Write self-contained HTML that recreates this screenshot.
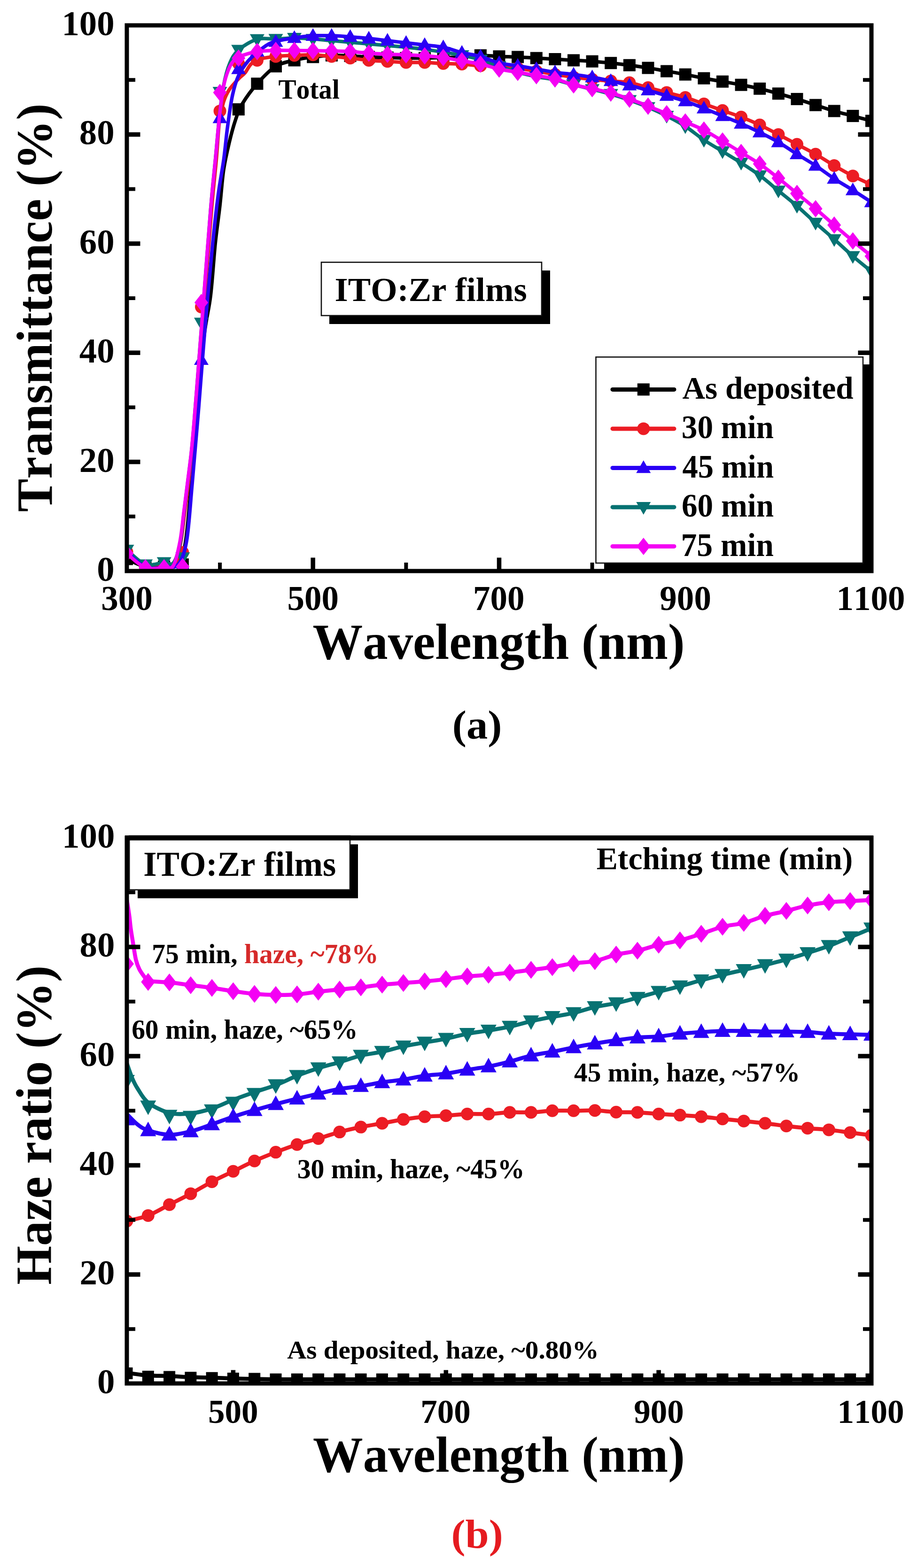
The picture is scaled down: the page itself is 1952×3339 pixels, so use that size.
<!DOCTYPE html>
<html><head><meta charset="utf-8"><title>ITO:Zr films transmittance and haze</title>
<style>html,body{margin:0;padding:0;background:#fff;}svg text{font-kerning:none;}</style>
</head><body>
<svg width="1952" height="3339" viewBox="0 0 1952 3339" style="display:block;font-kerning:none">
<rect width="1952" height="3339" fill="#fff"/>
<g font-family="'Liberation Serif','Times New Roman',serif" font-weight="bold">
<clipPath id="ca"><rect x="270" y="54" width="1585" height="1162"/></clipPath>
<g clip-path="url(#ca)">
<path d="M270.0,1190.4 C276.6,1193.1 296.4,1204.0 309.6,1206.7 C322.8,1209.4 337.7,1207.5 349.2,1206.7 C360.8,1205.9 371.4,1210.8 379.0,1202.1 C386.6,1193.3 390.2,1182.1 394.8,1154.4 C399.4,1126.7 402.4,1082.8 406.7,1035.9 C411.0,989.0 416.0,926.5 420.6,873.2 C425.2,820.0 429.8,757.0 434.4,716.3 C439.1,675.7 444.4,662.1 448.3,629.2 C452.3,596.3 454.9,550.8 458.2,518.8 C461.5,486.8 465.2,463.6 468.1,437.5 C471.1,411.3 472.7,384.2 476.0,361.9 C479.4,339.7 483.6,321.8 487.9,303.8 C492.2,285.8 497.2,267.6 501.8,253.9 C506.4,240.1 508.1,233.9 515.7,221.3 C523.3,208.7 535.5,191.7 547.4,178.3 C559.3,165.0 573.8,149.5 587.0,141.2 C600.2,132.8 613.4,131.7 626.6,128.4 C639.8,125.1 653.0,123.1 666.2,121.4 C679.5,119.7 692.7,118.3 705.9,117.9 C719.1,117.5 732.3,118.5 745.5,119.1 C758.7,119.7 771.9,120.8 785.1,121.4 C798.3,122.0 811.5,122.2 824.8,122.6 C838.0,122.9 851.2,123.5 864.4,123.7 C877.6,123.9 890.8,123.9 904.0,123.7 C917.2,123.5 930.4,122.9 943.6,122.6 C956.8,122.2 970.0,122.2 983.2,121.4 C996.5,120.6 1009.7,118.1 1022.9,117.9 C1036.1,117.7 1049.3,119.7 1062.5,120.2 C1075.7,120.8 1088.9,120.8 1102.1,121.4 C1115.3,122.0 1128.5,122.9 1141.8,123.7 C1155.0,124.5 1168.2,125.3 1181.4,126.0 C1194.6,126.8 1207.8,127.6 1221.0,128.4 C1234.2,129.1 1247.4,129.7 1260.6,130.7 C1273.8,131.7 1287.0,132.8 1300.2,134.2 C1313.5,135.5 1326.7,137.1 1339.9,138.8 C1353.1,140.6 1366.3,142.5 1379.5,144.6 C1392.7,146.8 1405.9,149.3 1419.1,151.6 C1432.3,153.9 1445.5,156.1 1458.8,158.6 C1472.0,161.1 1485.2,164.2 1498.4,166.7 C1511.6,169.2 1524.8,171.4 1538.0,173.7 C1551.2,176.0 1564.4,178.1 1577.6,180.7 C1590.8,183.2 1604.0,185.7 1617.2,188.8 C1630.5,191.9 1643.7,195.6 1656.9,199.3 C1670.1,202.9 1683.3,206.8 1696.5,210.9 C1709.7,214.9 1722.9,219.4 1736.1,223.7 C1749.3,227.9 1762.5,232.6 1775.8,236.4 C1789.0,240.3 1802.2,243.4 1815.4,246.9 C1828.6,250.4 1848.4,255.6 1855.0,257.4" fill="none" stroke="#000000" stroke-width="7.5" stroke-linejoin="round"/>
<rect x="257.0" y="1177.4" width="26" height="26" fill="#000000"/>
<rect x="296.6" y="1193.7" width="26" height="26" fill="#000000"/>
<rect x="336.2" y="1193.7" width="26" height="26" fill="#000000"/>
<rect x="375.9" y="1189.1" width="26" height="26" fill="#000000"/>
<rect x="494.8" y="219.9" width="26" height="26" fill="#000000"/>
<rect x="534.4" y="165.3" width="26" height="26" fill="#000000"/>
<rect x="574.0" y="128.2" width="26" height="26" fill="#000000"/>
<rect x="613.6" y="115.4" width="26" height="26" fill="#000000"/>
<rect x="653.2" y="108.4" width="26" height="26" fill="#000000"/>
<rect x="692.9" y="104.9" width="26" height="26" fill="#000000"/>
<rect x="732.5" y="106.1" width="26" height="26" fill="#000000"/>
<rect x="772.1" y="108.4" width="26" height="26" fill="#000000"/>
<rect x="811.8" y="109.6" width="26" height="26" fill="#000000"/>
<rect x="851.4" y="110.7" width="26" height="26" fill="#000000"/>
<rect x="891.0" y="110.7" width="26" height="26" fill="#000000"/>
<rect x="930.6" y="109.6" width="26" height="26" fill="#000000"/>
<rect x="970.2" y="108.4" width="26" height="26" fill="#000000"/>
<rect x="1009.9" y="104.9" width="26" height="26" fill="#000000"/>
<rect x="1049.5" y="107.2" width="26" height="26" fill="#000000"/>
<rect x="1089.1" y="108.4" width="26" height="26" fill="#000000"/>
<rect x="1128.8" y="110.7" width="26" height="26" fill="#000000"/>
<rect x="1168.4" y="113.0" width="26" height="26" fill="#000000"/>
<rect x="1208.0" y="115.4" width="26" height="26" fill="#000000"/>
<rect x="1247.6" y="117.7" width="26" height="26" fill="#000000"/>
<rect x="1287.2" y="121.2" width="26" height="26" fill="#000000"/>
<rect x="1326.9" y="125.8" width="26" height="26" fill="#000000"/>
<rect x="1366.5" y="131.6" width="26" height="26" fill="#000000"/>
<rect x="1406.1" y="138.6" width="26" height="26" fill="#000000"/>
<rect x="1445.8" y="145.6" width="26" height="26" fill="#000000"/>
<rect x="1485.4" y="153.7" width="26" height="26" fill="#000000"/>
<rect x="1525.0" y="160.7" width="26" height="26" fill="#000000"/>
<rect x="1564.6" y="167.7" width="26" height="26" fill="#000000"/>
<rect x="1604.2" y="175.8" width="26" height="26" fill="#000000"/>
<rect x="1643.9" y="186.3" width="26" height="26" fill="#000000"/>
<rect x="1683.5" y="197.9" width="26" height="26" fill="#000000"/>
<rect x="1723.1" y="210.7" width="26" height="26" fill="#000000"/>
<rect x="1762.8" y="223.4" width="26" height="26" fill="#000000"/>
<rect x="1802.4" y="233.9" width="26" height="26" fill="#000000"/>
<rect x="1842.0" y="244.4" width="26" height="26" fill="#000000"/>
<path d="M270.0,1175.3 C276.6,1180.6 296.4,1201.9 309.6,1206.7 C322.8,1211.5 338.7,1205.2 349.2,1204.4 C359.8,1203.6 367.0,1210.8 373.0,1202.1 C379.0,1193.3 381.9,1170.7 385.3,1152.1 C388.7,1133.5 390.6,1111.2 393.2,1090.5 C395.9,1069.8 398.5,1048.9 401.2,1027.8 C403.8,1006.6 406.8,985.1 409.1,963.8 C411.4,942.5 412.4,931.5 415.0,899.9 C417.7,868.4 421.6,817.0 424.9,774.4 C428.2,731.8 430.5,699.7 434.8,644.3 C439.1,588.9 446.4,493.0 450.7,442.1 C455.0,391.2 457.9,369.5 460.6,338.7 C463.3,307.9 464.6,277.7 467.1,257.4 C469.7,237.0 472.6,227.7 476.0,216.7 C479.5,205.6 482.7,199.2 487.9,191.1 C493.2,183.0 502.1,173.9 507.8,167.9 C513.4,161.9 517.0,160.5 521.6,155.1 C526.2,149.7 529.5,140.4 535.5,135.3 C541.4,130.3 548.7,127.4 557.3,124.9 C565.9,122.4 575.4,121.4 587.0,120.2 C598.6,119.1 613.4,118.5 626.6,117.9 C639.8,117.3 653.0,116.4 666.2,116.7 C679.5,117.1 692.7,119.1 705.9,120.2 C719.1,121.4 732.3,122.4 745.5,123.7 C758.7,125.1 771.9,127.2 785.1,128.4 C798.3,129.5 811.5,129.9 824.8,130.7 C838.0,131.5 851.2,132.6 864.4,133.0 C877.6,133.4 890.8,132.6 904.0,133.0 C917.2,133.4 930.4,134.8 943.6,135.3 C956.8,135.9 970.0,135.7 983.2,136.5 C996.5,137.3 1009.7,139.4 1022.9,140.0 C1036.1,140.6 1049.3,139.1 1062.5,140.0 C1075.7,140.9 1088.9,143.3 1102.1,145.2 C1115.3,147.2 1128.5,149.4 1141.8,151.6 C1155.0,153.8 1168.2,156.4 1181.4,158.6 C1194.6,160.7 1207.8,162.6 1221.0,164.4 C1234.2,166.1 1247.4,167.7 1260.6,169.0 C1273.8,170.4 1287.0,171.4 1300.2,172.5 C1313.5,173.7 1326.7,173.7 1339.9,176.0 C1353.1,178.3 1366.3,183.0 1379.5,186.5 C1392.7,190.0 1405.9,193.4 1419.1,196.9 C1432.3,200.4 1445.5,203.3 1458.8,207.4 C1472.0,211.5 1485.2,216.7 1498.4,221.3 C1511.6,226.0 1524.8,230.6 1538.0,235.3 C1551.2,239.9 1564.4,244.1 1577.6,249.2 C1590.8,254.3 1604.0,259.9 1617.2,266.1 C1630.5,272.3 1643.7,279.5 1656.9,286.4 C1670.1,293.3 1683.3,300.3 1696.5,307.3 C1709.7,314.3 1722.9,320.7 1736.1,328.2 C1749.3,335.8 1762.5,344.9 1775.8,352.6 C1789.0,360.4 1802.2,367.9 1815.4,374.7 C1828.6,381.5 1848.4,390.2 1855.0,393.3" fill="none" stroke="#ec1c24" stroke-width="7.5" stroke-linejoin="round"/>
<circle cx="270.0" cy="1175.3" r="13.5" fill="#ec1c24"/>
<circle cx="309.6" cy="1206.7" r="13.5" fill="#ec1c24"/>
<circle cx="349.2" cy="1204.4" r="13.5" fill="#ec1c24"/>
<circle cx="388.9" cy="1176.5" r="13.5" fill="#ec1c24"/>
<circle cx="428.5" cy="653.6" r="13.5" fill="#ec1c24"/>
<circle cx="468.1" cy="236.4" r="13.5" fill="#ec1c24"/>
<circle cx="507.8" cy="135.3" r="13.5" fill="#ec1c24"/>
<circle cx="547.4" cy="128.4" r="13.5" fill="#ec1c24"/>
<circle cx="587.0" cy="120.2" r="13.5" fill="#ec1c24"/>
<circle cx="626.6" cy="117.9" r="13.5" fill="#ec1c24"/>
<circle cx="666.2" cy="116.7" r="13.5" fill="#ec1c24"/>
<circle cx="705.9" cy="120.2" r="13.5" fill="#ec1c24"/>
<circle cx="745.5" cy="123.7" r="13.5" fill="#ec1c24"/>
<circle cx="785.1" cy="128.4" r="13.5" fill="#ec1c24"/>
<circle cx="824.8" cy="130.7" r="13.5" fill="#ec1c24"/>
<circle cx="864.4" cy="133.0" r="13.5" fill="#ec1c24"/>
<circle cx="904.0" cy="133.0" r="13.5" fill="#ec1c24"/>
<circle cx="943.6" cy="135.3" r="13.5" fill="#ec1c24"/>
<circle cx="983.2" cy="136.5" r="13.5" fill="#ec1c24"/>
<circle cx="1022.9" cy="140.0" r="13.5" fill="#ec1c24"/>
<circle cx="1062.5" cy="140.0" r="13.5" fill="#ec1c24"/>
<circle cx="1102.1" cy="145.2" r="13.5" fill="#ec1c24"/>
<circle cx="1141.8" cy="151.6" r="13.5" fill="#ec1c24"/>
<circle cx="1181.4" cy="158.6" r="13.5" fill="#ec1c24"/>
<circle cx="1221.0" cy="164.4" r="13.5" fill="#ec1c24"/>
<circle cx="1260.6" cy="169.0" r="13.5" fill="#ec1c24"/>
<circle cx="1300.2" cy="172.5" r="13.5" fill="#ec1c24"/>
<circle cx="1339.9" cy="176.0" r="13.5" fill="#ec1c24"/>
<circle cx="1379.5" cy="186.5" r="13.5" fill="#ec1c24"/>
<circle cx="1419.1" cy="196.9" r="13.5" fill="#ec1c24"/>
<circle cx="1458.8" cy="207.4" r="13.5" fill="#ec1c24"/>
<circle cx="1498.4" cy="221.3" r="13.5" fill="#ec1c24"/>
<circle cx="1538.0" cy="235.3" r="13.5" fill="#ec1c24"/>
<circle cx="1577.6" cy="249.2" r="13.5" fill="#ec1c24"/>
<circle cx="1617.2" cy="266.1" r="13.5" fill="#ec1c24"/>
<circle cx="1656.9" cy="286.4" r="13.5" fill="#ec1c24"/>
<circle cx="1696.5" cy="307.3" r="13.5" fill="#ec1c24"/>
<circle cx="1736.1" cy="328.2" r="13.5" fill="#ec1c24"/>
<circle cx="1775.8" cy="352.6" r="13.5" fill="#ec1c24"/>
<circle cx="1815.4" cy="374.7" r="13.5" fill="#ec1c24"/>
<circle cx="1855.0" cy="393.3" r="13.5" fill="#ec1c24"/>
<path d="M270.0,1170.7 C276.6,1175.9 296.4,1197.6 309.6,1202.1 C322.8,1206.5 339.3,1198.0 349.2,1197.4 C359.2,1196.8 363.4,1205.2 369.1,1198.6 C374.7,1192.0 379.6,1175.3 383.3,1157.9 C387.0,1140.5 388.6,1115.3 391.3,1094.0 C393.9,1072.7 396.5,1051.4 399.2,1030.1 C401.8,1008.8 404.8,987.5 407.1,966.2 C409.4,944.9 410.4,934.2 413.0,902.3 C415.7,870.3 419.7,817.0 423.0,774.4 C426.3,731.8 428.6,702.0 432.9,646.6 C437.2,591.2 444.4,493.4 448.7,442.1 C453.0,390.8 455.5,371.0 458.6,338.7 C461.7,306.3 464.2,274.2 467.1,248.1 C470.0,221.9 472.4,200.6 476.0,181.8 C479.7,163.0 483.6,147.9 488.9,135.3 C494.2,122.8 498.0,114.9 507.8,106.3 C517.5,97.7 534.2,87.5 547.4,83.6 C560.6,79.8 573.8,83.5 587.0,83.1 C600.2,82.6 613.4,80.7 626.6,80.7 C639.8,80.7 653.0,82.1 666.2,83.1 C679.5,84.0 692.7,85.4 705.9,86.5 C719.1,87.7 732.3,88.9 745.5,90.0 C758.7,91.2 771.9,92.3 785.1,93.5 C798.3,94.7 811.5,95.8 824.8,97.0 C838.0,98.2 851.2,99.1 864.4,100.5 C877.6,101.8 890.8,103.4 904.0,105.1 C917.2,106.9 930.4,108.8 943.6,110.9 C956.8,113.1 970.0,115.2 983.2,117.9 C996.5,120.6 1009.7,123.3 1022.9,127.2 C1036.1,131.1 1049.3,136.7 1062.5,141.2 C1075.7,145.6 1088.9,150.3 1102.1,153.9 C1115.3,157.6 1128.5,160.5 1141.8,163.2 C1155.0,165.9 1168.2,167.3 1181.4,170.2 C1194.6,173.1 1207.8,177.4 1221.0,180.7 C1234.2,184.0 1247.4,186.7 1260.6,190.0 C1273.8,193.2 1287.0,196.5 1300.2,200.4 C1313.5,204.3 1326.7,208.5 1339.9,213.2 C1353.1,217.8 1366.3,222.7 1379.5,228.3 C1392.7,233.9 1405.9,240.1 1419.1,246.9 C1432.3,253.7 1445.5,260.4 1458.8,269.0 C1472.0,277.5 1485.2,289.1 1498.4,298.0 C1511.6,306.9 1524.8,314.3 1538.0,322.4 C1551.2,330.6 1564.4,338.3 1577.6,346.8 C1590.8,355.3 1604.0,363.7 1617.2,373.6 C1630.5,383.4 1643.7,395.2 1656.9,406.1 C1670.1,416.9 1683.3,427.2 1696.5,438.6 C1709.7,450.0 1722.9,462.8 1736.1,474.6 C1749.3,486.5 1762.5,497.7 1775.8,509.5 C1789.0,521.3 1802.2,534.1 1815.4,545.5 C1828.6,557.0 1848.4,572.6 1855.0,578.1" fill="none" stroke="#077272" stroke-width="7.5" stroke-linejoin="round"/>
<path d="M254.5,1159.9 L285.5,1159.9 L270.0,1186.9Z" fill="#077272"/>
<path d="M294.1,1191.3 L325.1,1191.3 L309.6,1218.3Z" fill="#077272"/>
<path d="M333.8,1186.6 L364.8,1186.6 L349.2,1213.6Z" fill="#077272"/>
<path d="M373.4,1176.2 L404.4,1176.2 L388.9,1203.2Z" fill="#077272"/>
<path d="M413.0,676.5 L444.0,676.5 L428.5,703.5Z" fill="#077272"/>
<path d="M452.6,185.0 L483.6,185.0 L468.1,212.0Z" fill="#077272"/>
<path d="M492.2,95.5 L523.2,95.5 L507.8,122.5Z" fill="#077272"/>
<path d="M531.9,72.8 L562.9,72.8 L547.4,99.8Z" fill="#077272"/>
<path d="M571.5,72.3 L602.5,72.3 L587.0,99.3Z" fill="#077272"/>
<path d="M611.1,69.9 L642.1,69.9 L626.6,96.9Z" fill="#077272"/>
<path d="M650.8,72.3 L681.8,72.3 L666.2,99.3Z" fill="#077272"/>
<path d="M690.4,75.7 L721.4,75.7 L705.9,102.7Z" fill="#077272"/>
<path d="M730.0,79.2 L761.0,79.2 L745.5,106.2Z" fill="#077272"/>
<path d="M769.6,82.7 L800.6,82.7 L785.1,109.7Z" fill="#077272"/>
<path d="M809.2,86.2 L840.2,86.2 L824.8,113.2Z" fill="#077272"/>
<path d="M848.9,89.7 L879.9,89.7 L864.4,116.7Z" fill="#077272"/>
<path d="M888.5,94.3 L919.5,94.3 L904.0,121.3Z" fill="#077272"/>
<path d="M928.1,100.1 L959.1,100.1 L943.6,127.1Z" fill="#077272"/>
<path d="M967.8,107.1 L998.8,107.1 L983.2,134.1Z" fill="#077272"/>
<path d="M1007.4,116.4 L1038.4,116.4 L1022.9,143.4Z" fill="#077272"/>
<path d="M1047.0,130.4 L1078.0,130.4 L1062.5,157.4Z" fill="#077272"/>
<path d="M1086.6,143.1 L1117.6,143.1 L1102.1,170.1Z" fill="#077272"/>
<path d="M1126.2,152.4 L1157.2,152.4 L1141.8,179.4Z" fill="#077272"/>
<path d="M1165.9,159.4 L1196.9,159.4 L1181.4,186.4Z" fill="#077272"/>
<path d="M1205.5,169.9 L1236.5,169.9 L1221.0,196.9Z" fill="#077272"/>
<path d="M1245.1,179.2 L1276.1,179.2 L1260.6,206.2Z" fill="#077272"/>
<path d="M1284.8,189.6 L1315.8,189.6 L1300.2,216.6Z" fill="#077272"/>
<path d="M1324.4,202.4 L1355.4,202.4 L1339.9,229.4Z" fill="#077272"/>
<path d="M1364.0,217.5 L1395.0,217.5 L1379.5,244.5Z" fill="#077272"/>
<path d="M1403.6,236.1 L1434.6,236.1 L1419.1,263.1Z" fill="#077272"/>
<path d="M1443.2,258.2 L1474.2,258.2 L1458.8,285.2Z" fill="#077272"/>
<path d="M1482.9,287.2 L1513.9,287.2 L1498.4,314.2Z" fill="#077272"/>
<path d="M1522.5,311.6 L1553.5,311.6 L1538.0,338.6Z" fill="#077272"/>
<path d="M1562.1,336.0 L1593.1,336.0 L1577.6,363.0Z" fill="#077272"/>
<path d="M1601.8,362.8 L1632.8,362.8 L1617.2,389.8Z" fill="#077272"/>
<path d="M1641.4,395.3 L1672.4,395.3 L1656.9,422.3Z" fill="#077272"/>
<path d="M1681.0,427.8 L1712.0,427.8 L1696.5,454.8Z" fill="#077272"/>
<path d="M1720.6,463.8 L1751.6,463.8 L1736.1,490.8Z" fill="#077272"/>
<path d="M1760.2,498.7 L1791.2,498.7 L1775.8,525.7Z" fill="#077272"/>
<path d="M1799.9,534.7 L1830.9,534.7 L1815.4,561.7Z" fill="#077272"/>
<path d="M1839.5,567.3 L1870.5,567.3 L1855.0,594.3Z" fill="#077272"/>
<path d="M270.0,1175.3 C276.6,1180.8 296.4,1202.4 309.6,1207.9 C322.8,1213.3 337.7,1208.8 349.2,1207.9 C360.8,1206.9 371.0,1211.4 379.0,1202.1 C387.0,1192.8 392.2,1180.8 397.2,1152.1 C402.2,1123.4 404.8,1077.5 409.1,1030.1 C413.4,982.6 418.3,923.6 423.0,867.4 C427.6,811.2 431.9,751.2 436.8,693.1 C441.8,635.0 448.0,565.3 452.7,518.8 C457.3,472.3 460.6,444.2 464.6,414.2 C468.5,384.2 473.1,362.7 476.4,338.7 C479.7,314.7 481.3,292.8 484.4,270.1 C487.4,247.5 491.0,220.9 494.9,202.7 C498.8,184.5 502.3,172.9 507.8,160.9 C513.2,148.9 521.0,138.8 527.6,130.7 C534.2,122.6 539.1,118.7 547.4,112.1 C555.6,105.5 563.9,96.4 577.1,91.2 C590.3,86.0 611.8,83.2 626.6,80.7 C641.5,78.2 653.0,76.9 666.2,76.1 C679.5,75.3 692.7,75.7 705.9,76.1 C719.1,76.5 732.3,77.4 745.5,78.4 C758.7,79.4 771.9,80.5 785.1,81.9 C798.3,83.2 811.5,85.0 824.8,86.5 C838.0,88.1 851.2,89.6 864.4,91.2 C877.6,92.7 890.8,94.3 904.0,95.8 C917.2,97.4 930.4,97.8 943.6,100.5 C956.8,103.2 970.0,108.8 983.2,112.1 C996.5,115.4 1009.7,116.6 1022.9,120.2 C1036.1,123.9 1049.3,130.9 1062.5,134.2 C1075.7,137.5 1088.9,137.9 1102.1,140.0 C1115.3,142.1 1128.5,144.6 1141.8,147.0 C1155.0,149.3 1168.2,152.0 1181.4,153.9 C1194.6,155.9 1207.8,156.8 1221.0,158.6 C1234.2,160.3 1247.4,162.1 1260.6,164.4 C1273.8,166.7 1287.0,169.6 1300.2,172.5 C1313.5,175.4 1326.7,178.5 1339.9,181.8 C1353.1,185.1 1366.3,188.6 1379.5,192.3 C1392.7,196.0 1405.9,200.0 1419.1,203.9 C1432.3,207.8 1445.5,211.1 1458.8,215.5 C1472.0,220.0 1485.2,225.4 1498.4,230.6 C1511.6,235.9 1524.8,241.5 1538.0,246.9 C1551.2,252.3 1564.4,257.4 1577.6,263.2 C1590.8,269.0 1604.0,275.2 1617.2,281.8 C1630.5,288.3 1643.7,294.9 1656.9,302.7 C1670.1,310.4 1683.3,319.9 1696.5,328.2 C1709.7,336.6 1722.9,343.9 1736.1,352.6 C1749.3,361.3 1762.5,371.8 1775.8,380.5 C1789.0,389.2 1802.2,396.6 1815.4,404.9 C1828.6,413.3 1848.4,426.2 1855.0,430.5" fill="none" stroke="#2a00f5" stroke-width="7.5" stroke-linejoin="round"/>
<path d="M270.0,1159.1 L285.5,1186.1 L254.5,1186.1Z" fill="#2a00f5"/>
<path d="M309.6,1191.7 L325.1,1218.7 L294.1,1218.7Z" fill="#2a00f5"/>
<path d="M349.2,1191.7 L364.8,1218.7 L333.8,1218.7Z" fill="#2a00f5"/>
<path d="M388.9,1188.2 L404.4,1215.2 L373.4,1215.2Z" fill="#2a00f5"/>
<path d="M428.5,750.1 L444.0,777.1 L413.0,777.1Z" fill="#2a00f5"/>
<path d="M468.1,235.3 L483.6,262.3 L452.6,262.3Z" fill="#2a00f5"/>
<path d="M507.8,130.8 L523.2,157.8 L492.2,157.8Z" fill="#2a00f5"/>
<path d="M547.4,93.6 L562.9,120.6 L531.9,120.6Z" fill="#2a00f5"/>
<path d="M587.0,72.7 L602.5,99.7 L571.5,99.7Z" fill="#2a00f5"/>
<path d="M626.6,64.5 L642.1,91.5 L611.1,91.5Z" fill="#2a00f5"/>
<path d="M666.2,59.9 L681.8,86.9 L650.8,86.9Z" fill="#2a00f5"/>
<path d="M705.9,59.9 L721.4,86.9 L690.4,86.9Z" fill="#2a00f5"/>
<path d="M745.5,62.2 L761.0,89.2 L730.0,89.2Z" fill="#2a00f5"/>
<path d="M785.1,65.7 L800.6,92.7 L769.6,92.7Z" fill="#2a00f5"/>
<path d="M824.8,70.3 L840.2,97.3 L809.2,97.3Z" fill="#2a00f5"/>
<path d="M864.4,75.0 L879.9,102.0 L848.9,102.0Z" fill="#2a00f5"/>
<path d="M904.0,79.6 L919.5,106.6 L888.5,106.6Z" fill="#2a00f5"/>
<path d="M943.6,84.3 L959.1,111.3 L928.1,111.3Z" fill="#2a00f5"/>
<path d="M983.2,95.9 L998.8,122.9 L967.8,122.9Z" fill="#2a00f5"/>
<path d="M1022.9,104.0 L1038.4,131.0 L1007.4,131.0Z" fill="#2a00f5"/>
<path d="M1062.5,118.0 L1078.0,145.0 L1047.0,145.0Z" fill="#2a00f5"/>
<path d="M1102.1,123.8 L1117.6,150.8 L1086.6,150.8Z" fill="#2a00f5"/>
<path d="M1141.8,130.8 L1157.2,157.8 L1126.2,157.8Z" fill="#2a00f5"/>
<path d="M1181.4,137.7 L1196.9,164.7 L1165.9,164.7Z" fill="#2a00f5"/>
<path d="M1221.0,142.4 L1236.5,169.4 L1205.5,169.4Z" fill="#2a00f5"/>
<path d="M1260.6,148.2 L1276.1,175.2 L1245.1,175.2Z" fill="#2a00f5"/>
<path d="M1300.2,156.3 L1315.8,183.3 L1284.8,183.3Z" fill="#2a00f5"/>
<path d="M1339.9,165.6 L1355.4,192.6 L1324.4,192.6Z" fill="#2a00f5"/>
<path d="M1379.5,176.1 L1395.0,203.1 L1364.0,203.1Z" fill="#2a00f5"/>
<path d="M1419.1,187.7 L1434.6,214.7 L1403.6,214.7Z" fill="#2a00f5"/>
<path d="M1458.8,199.3 L1474.2,226.3 L1443.2,226.3Z" fill="#2a00f5"/>
<path d="M1498.4,214.4 L1513.9,241.4 L1482.9,241.4Z" fill="#2a00f5"/>
<path d="M1538.0,230.7 L1553.5,257.7 L1522.5,257.7Z" fill="#2a00f5"/>
<path d="M1577.6,247.0 L1593.1,274.0 L1562.1,274.0Z" fill="#2a00f5"/>
<path d="M1617.2,265.6 L1632.8,292.6 L1601.8,292.6Z" fill="#2a00f5"/>
<path d="M1656.9,286.5 L1672.4,313.5 L1641.4,313.5Z" fill="#2a00f5"/>
<path d="M1696.5,312.0 L1712.0,339.0 L1681.0,339.0Z" fill="#2a00f5"/>
<path d="M1736.1,336.4 L1751.6,363.4 L1720.6,363.4Z" fill="#2a00f5"/>
<path d="M1775.8,364.3 L1791.2,391.3 L1760.2,391.3Z" fill="#2a00f5"/>
<path d="M1815.4,388.7 L1830.9,415.7 L1799.9,415.7Z" fill="#2a00f5"/>
<path d="M1855.0,414.3 L1870.5,441.3 L1839.5,441.3Z" fill="#2a00f5"/>
<path d="M270.0,1178.8 C276.6,1183.9 296.4,1204.0 309.6,1209.0 C322.8,1214.1 339.3,1209.8 349.2,1209.0 C359.2,1208.3 363.4,1213.9 369.1,1204.4 C374.7,1194.9 379.6,1171.1 383.3,1152.1 C387.0,1133.1 388.6,1111.2 391.3,1090.5 C393.9,1069.8 396.5,1048.9 399.2,1027.8 C401.8,1006.6 404.8,985.1 407.1,963.8 C409.4,942.5 410.4,931.5 413.0,899.9 C415.7,868.4 419.7,817.0 423.0,774.4 C426.3,731.8 428.6,699.7 432.9,644.3 C437.2,588.9 444.4,493.0 448.7,442.1 C453.0,391.2 455.5,371.0 458.6,338.7 C461.7,306.3 464.2,274.2 467.1,248.1 C470.1,221.9 473.2,198.5 476.4,181.8 C479.6,165.2 483.1,156.6 486.4,148.1 C489.7,139.6 492.7,135.1 496.3,130.7 C499.8,126.2 499.2,124.9 507.8,121.4 C516.3,117.9 534.2,112.1 547.4,109.8 C560.6,107.5 573.8,107.8 587.0,107.5 C600.2,107.1 613.4,107.4 626.6,107.5 C639.8,107.5 653.0,107.8 666.2,108.0 C679.5,108.2 692.7,108.3 705.9,108.6 C719.1,108.9 732.3,109.0 745.5,109.8 C758.7,110.6 771.9,112.3 785.1,113.3 C798.3,114.2 811.5,115.0 824.8,115.6 C838.0,116.2 851.2,116.2 864.4,116.7 C877.6,117.3 890.8,118.1 904.0,119.1 C917.2,120.0 930.4,120.8 943.6,122.6 C956.8,124.3 970.0,127.2 983.2,129.5 C996.5,131.9 1009.7,133.6 1022.9,136.5 C1036.1,139.4 1049.3,144.1 1062.5,147.0 C1075.7,149.9 1088.9,151.6 1102.1,153.9 C1115.3,156.3 1128.5,158.6 1141.8,160.9 C1155.0,163.2 1168.2,164.6 1181.4,167.9 C1194.6,171.2 1207.8,177.2 1221.0,180.7 C1234.2,184.1 1247.4,185.9 1260.6,188.8 C1273.8,191.7 1287.0,194.4 1300.2,198.1 C1313.5,201.8 1326.7,206.2 1339.9,210.9 C1353.1,215.5 1366.3,220.7 1379.5,226.0 C1392.7,231.2 1405.9,236.6 1419.1,242.2 C1432.3,247.9 1445.5,253.9 1458.8,259.7 C1472.0,265.5 1485.2,270.3 1498.4,277.1 C1511.6,283.9 1524.8,292.4 1538.0,300.3 C1551.2,308.3 1564.4,316.6 1577.6,324.7 C1590.8,332.9 1604.0,340.0 1617.2,349.1 C1630.5,358.3 1643.7,368.9 1656.9,379.4 C1670.1,389.8 1683.3,401.1 1696.5,411.9 C1709.7,422.7 1722.9,433.2 1736.1,444.4 C1749.3,455.7 1762.5,467.9 1775.8,479.3 C1789.0,490.7 1802.2,502.0 1815.4,513.0 C1828.6,524.0 1848.4,540.1 1855.0,545.5" fill="none" stroke="#f400f4" stroke-width="7.5" stroke-linejoin="round"/>
<path d="M270.0,1160.3 L284.5,1178.8 L270.0,1197.3 L255.5,1178.8Z" fill="#f400f4"/>
<path d="M309.6,1190.5 L324.1,1209.0 L309.6,1227.5 L295.1,1209.0Z" fill="#f400f4"/>
<path d="M349.2,1190.5 L363.8,1209.0 L349.2,1227.5 L334.8,1209.0Z" fill="#f400f4"/>
<path d="M388.9,1188.2 L403.4,1206.7 L388.9,1225.2 L374.4,1206.7Z" fill="#f400f4"/>
<path d="M428.5,625.8 L443.0,644.3 L428.5,662.8 L414.0,644.3Z" fill="#f400f4"/>
<path d="M468.1,178.4 L482.6,196.9 L468.1,215.4 L453.6,196.9Z" fill="#f400f4"/>
<path d="M507.8,105.2 L522.2,123.7 L507.8,142.2 L493.2,123.7Z" fill="#f400f4"/>
<path d="M547.4,91.3 L561.9,109.8 L547.4,128.3 L532.9,109.8Z" fill="#f400f4"/>
<path d="M587.0,89.0 L601.5,107.5 L587.0,126.0 L572.5,107.5Z" fill="#f400f4"/>
<path d="M626.6,89.0 L641.1,107.5 L626.6,126.0 L612.1,107.5Z" fill="#f400f4"/>
<path d="M666.2,89.5 L680.8,108.0 L666.2,126.5 L651.8,108.0Z" fill="#f400f4"/>
<path d="M705.9,90.1 L720.4,108.6 L705.9,127.1 L691.4,108.6Z" fill="#f400f4"/>
<path d="M745.5,91.3 L760.0,109.8 L745.5,128.3 L731.0,109.8Z" fill="#f400f4"/>
<path d="M785.1,94.8 L799.6,113.3 L785.1,131.8 L770.6,113.3Z" fill="#f400f4"/>
<path d="M824.8,97.1 L839.2,115.6 L824.8,134.1 L810.2,115.6Z" fill="#f400f4"/>
<path d="M864.4,98.2 L878.9,116.7 L864.4,135.2 L849.9,116.7Z" fill="#f400f4"/>
<path d="M904.0,100.6 L918.5,119.1 L904.0,137.6 L889.5,119.1Z" fill="#f400f4"/>
<path d="M943.6,104.1 L958.1,122.6 L943.6,141.1 L929.1,122.6Z" fill="#f400f4"/>
<path d="M983.2,111.0 L997.8,129.5 L983.2,148.0 L968.8,129.5Z" fill="#f400f4"/>
<path d="M1022.9,118.0 L1037.4,136.5 L1022.9,155.0 L1008.4,136.5Z" fill="#f400f4"/>
<path d="M1062.5,128.5 L1077.0,147.0 L1062.5,165.5 L1048.0,147.0Z" fill="#f400f4"/>
<path d="M1102.1,135.4 L1116.6,153.9 L1102.1,172.4 L1087.6,153.9Z" fill="#f400f4"/>
<path d="M1141.8,142.4 L1156.2,160.9 L1141.8,179.4 L1127.2,160.9Z" fill="#f400f4"/>
<path d="M1181.4,149.4 L1195.9,167.9 L1181.4,186.4 L1166.9,167.9Z" fill="#f400f4"/>
<path d="M1221.0,162.2 L1235.5,180.7 L1221.0,199.2 L1206.5,180.7Z" fill="#f400f4"/>
<path d="M1260.6,170.3 L1275.1,188.8 L1260.6,207.3 L1246.1,188.8Z" fill="#f400f4"/>
<path d="M1300.2,179.6 L1314.8,198.1 L1300.2,216.6 L1285.8,198.1Z" fill="#f400f4"/>
<path d="M1339.9,192.4 L1354.4,210.9 L1339.9,229.4 L1325.4,210.9Z" fill="#f400f4"/>
<path d="M1379.5,207.5 L1394.0,226.0 L1379.5,244.5 L1365.0,226.0Z" fill="#f400f4"/>
<path d="M1419.1,223.7 L1433.6,242.2 L1419.1,260.7 L1404.6,242.2Z" fill="#f400f4"/>
<path d="M1458.8,241.2 L1473.2,259.7 L1458.8,278.2 L1444.2,259.7Z" fill="#f400f4"/>
<path d="M1498.4,258.6 L1512.9,277.1 L1498.4,295.6 L1483.9,277.1Z" fill="#f400f4"/>
<path d="M1538.0,281.8 L1552.5,300.3 L1538.0,318.8 L1523.5,300.3Z" fill="#f400f4"/>
<path d="M1577.6,306.2 L1592.1,324.7 L1577.6,343.2 L1563.1,324.7Z" fill="#f400f4"/>
<path d="M1617.2,330.6 L1631.8,349.1 L1617.2,367.6 L1602.8,349.1Z" fill="#f400f4"/>
<path d="M1656.9,360.9 L1671.4,379.4 L1656.9,397.9 L1642.4,379.4Z" fill="#f400f4"/>
<path d="M1696.5,393.4 L1711.0,411.9 L1696.5,430.4 L1682.0,411.9Z" fill="#f400f4"/>
<path d="M1736.1,425.9 L1750.6,444.4 L1736.1,462.9 L1721.6,444.4Z" fill="#f400f4"/>
<path d="M1775.8,460.8 L1790.2,479.3 L1775.8,497.8 L1761.2,479.3Z" fill="#f400f4"/>
<path d="M1815.4,494.5 L1829.9,513.0 L1815.4,531.5 L1800.9,513.0Z" fill="#f400f4"/>
<path d="M1855.0,527.0 L1869.5,545.5 L1855.0,564.0 L1840.5,545.5Z" fill="#f400f4"/>
</g>
<rect x="270" y="54" width="1585" height="1162" fill="none" stroke="#000" stroke-width="9" stroke-linejoin="miter"/>
<line x1="270" y1="1099.8" x2="288" y2="1099.8" stroke="#000" stroke-width="8"/>
<line x1="1855" y1="1099.8" x2="1837" y2="1099.8" stroke="#000" stroke-width="8"/>
<line x1="270" y1="983.6" x2="298.5" y2="983.6" stroke="#000" stroke-width="9.5"/>
<line x1="1855" y1="983.6" x2="1826.5" y2="983.6" stroke="#000" stroke-width="9.5"/>
<line x1="270" y1="867.4" x2="288" y2="867.4" stroke="#000" stroke-width="8"/>
<line x1="1855" y1="867.4" x2="1837" y2="867.4" stroke="#000" stroke-width="8"/>
<line x1="270" y1="751.2" x2="298.5" y2="751.2" stroke="#000" stroke-width="9.5"/>
<line x1="1855" y1="751.2" x2="1826.5" y2="751.2" stroke="#000" stroke-width="9.5"/>
<line x1="270" y1="635.0" x2="288" y2="635.0" stroke="#000" stroke-width="8"/>
<line x1="1855" y1="635.0" x2="1837" y2="635.0" stroke="#000" stroke-width="8"/>
<line x1="270" y1="518.8" x2="298.5" y2="518.8" stroke="#000" stroke-width="9.5"/>
<line x1="1855" y1="518.8" x2="1826.5" y2="518.8" stroke="#000" stroke-width="9.5"/>
<line x1="270" y1="402.6" x2="288" y2="402.6" stroke="#000" stroke-width="8"/>
<line x1="1855" y1="402.6" x2="1837" y2="402.6" stroke="#000" stroke-width="8"/>
<line x1="270" y1="286.4" x2="298.5" y2="286.4" stroke="#000" stroke-width="9.5"/>
<line x1="1855" y1="286.4" x2="1826.5" y2="286.4" stroke="#000" stroke-width="9.5"/>
<line x1="270" y1="170.2" x2="288" y2="170.2" stroke="#000" stroke-width="8"/>
<line x1="1855" y1="170.2" x2="1837" y2="170.2" stroke="#000" stroke-width="8"/>
<line x1="468.1" y1="1216" x2="468.1" y2="1198" stroke="#000" stroke-width="8"/>
<line x1="666.2" y1="1216" x2="666.2" y2="1187.5" stroke="#000" stroke-width="9.5"/>
<line x1="864.4" y1="1216" x2="864.4" y2="1198" stroke="#000" stroke-width="8"/>
<line x1="1062.5" y1="1216" x2="1062.5" y2="1187.5" stroke="#000" stroke-width="9.5"/>
<line x1="1260.6" y1="1216" x2="1260.6" y2="1198" stroke="#000" stroke-width="8"/>
<line x1="1458.8" y1="1216" x2="1458.8" y2="1187.5" stroke="#000" stroke-width="9.5"/>
<line x1="1656.9" y1="1216" x2="1656.9" y2="1198" stroke="#000" stroke-width="8"/>
<text x="206.23" y="1236.92" font-size="74.84" fill="#000">0</text>
<text x="168.81" y="1004.52" font-size="74.84" fill="#000">20</text>
<text x="168.81" y="772.12" font-size="74.84" fill="#000">40</text>
<text x="168.81" y="539.72" font-size="74.84" fill="#000">60</text>
<text x="168.81" y="307.32" font-size="74.84" fill="#000">80</text>
<text x="131.40" y="74.92" font-size="74.84" fill="#000">100</text>
<text x="215.22" y="1299.09" font-size="73.06" fill="#000">300</text>
<text x="611.39" y="1299.09" font-size="73.06" fill="#000">500</text>
<text x="1007.01" y="1299.09" font-size="73.06" fill="#000">700</text>
<text x="1404.35" y="1299.09" font-size="73.06" fill="#000">900</text>
<text x="1780.41" y="1299.09" font-size="73.06" fill="#000">1100</text>
<text transform="translate(109.60,1090.26) rotate(-90) scale(0.9850,1)" font-size="107.82" fill="#000">Transmittance (%)</text>
<text transform="translate(665.49,1403.20) scale(0.9951,1)" font-size="107.36" fill="#000" >Wavelength (nm)</text>
<text transform="translate(962.82,1573.45) scale(1.0401,1)" font-size="87.13" fill="#000">(a)</text>
<text transform="translate(592.51,209.90) scale(0.9727,1)" font-size="58.80" fill="#000" >Total</text>
<rect x="701" y="576" width="470" height="114" fill="#000"/>
<rect x="684" y="558.5" width="469" height="113.5" fill="#fff" stroke="#111" stroke-width="2.6"/>
<text transform="translate(712.55,640.80) scale(0.9983,1)" font-size="72.70" fill="#000" >ITO:Zr films</text>
<rect x="1286" y="776" width="568" height="439" fill="#000"/>
<rect x="1268.5" y="760.3" width="568.5" height="438.7" fill="#fff" stroke="#111" stroke-width="2.6"/>
<line x1="1304" y1="829.4" x2="1435" y2="829.4" stroke="#000000" stroke-width="9" stroke-linecap="round"/>
<rect x="1356.8" y="816.4" width="26" height="26" fill="#000000"/>
<text transform="translate(1452.54,849.20) scale(1.0097,1)" font-size="66.59" fill="#000" >As deposited</text>
<line x1="1304" y1="912.9" x2="1435" y2="912.9" stroke="#ec1c24" stroke-width="9" stroke-linecap="round"/>
<circle cx="1369.8" cy="912.9" r="13.5" fill="#ec1c24"/>
<text transform="translate(1450.77,933.20) scale(0.9747,1)" font-size="69.02" fill="#000" >30 min</text>
<line x1="1304" y1="996.4" x2="1435" y2="996.4" stroke="#2a00f5" stroke-width="9" stroke-linecap="round"/>
<path d="M1369.8,980.2 L1385.3,1007.2 L1354.3,1007.2Z" fill="#2a00f5"/>
<text transform="translate(1452.39,1016.80) scale(0.9609,1)" font-size="69.43" fill="#000" >45 min</text>
<line x1="1304" y1="1079.9" x2="1435" y2="1079.9" stroke="#077272" stroke-width="9" stroke-linecap="round"/>
<path d="M1354.3,1069.1 L1385.3,1069.1 L1369.8,1096.1Z" fill="#077272"/>
<text transform="translate(1451.00,1099.70) scale(0.9736,1)" font-size="69.02" fill="#000" >60 min</text>
<line x1="1304" y1="1163.4" x2="1435" y2="1163.4" stroke="#f400f4" stroke-width="9" stroke-linecap="round"/>
<path d="M1369.8,1144.9 L1384.3,1163.4 L1369.8,1181.9 L1355.3,1163.4Z" fill="#f400f4"/>
<text transform="translate(1449.43,1184.00) scale(0.9706,1)" font-size="69.79" fill="#000" >75 min</text>
<clipPath id="cb"><rect x="270" y="1784" width="1585" height="1162"/></clipPath>
<g clip-path="url(#cb)">
<path d="M270.0,2923.2 C277.5,2924.2 300.2,2927.9 315.3,2929.1 C330.4,2930.2 345.5,2929.6 360.6,2930.2 C375.7,2930.8 390.8,2932.0 405.9,2932.6 C421.0,2933.1 436.0,2933.2 451.1,2933.7 C466.2,2934.2 481.3,2935.0 496.4,2935.5 C511.5,2935.9 526.6,2936.3 541.7,2936.6 C556.8,2936.9 571.9,2937.1 587.0,2937.2 C602.1,2937.3 617.2,2937.2 632.3,2937.2 C647.4,2937.2 662.5,2937.2 677.6,2937.2 C692.7,2937.2 707.8,2937.2 722.9,2937.2 C738.0,2937.2 753.0,2937.2 768.1,2937.2 C783.2,2937.2 798.3,2937.2 813.4,2937.2 C828.5,2937.2 843.6,2937.2 858.7,2937.2 C873.8,2937.2 888.9,2937.2 904.0,2937.2 C919.1,2937.2 934.2,2937.2 949.3,2937.2 C964.4,2937.2 979.5,2937.2 994.6,2937.2 C1009.7,2937.2 1024.8,2937.2 1039.9,2937.2 C1055.0,2937.2 1070.0,2937.2 1085.1,2937.2 C1100.2,2937.2 1115.3,2937.2 1130.4,2937.2 C1145.5,2937.2 1160.6,2937.2 1175.7,2937.2 C1190.8,2937.2 1205.9,2937.2 1221.0,2937.2 C1236.1,2937.2 1251.2,2937.2 1266.3,2937.2 C1281.4,2937.2 1296.5,2937.2 1311.6,2937.2 C1326.7,2937.2 1341.8,2937.2 1356.9,2937.2 C1372.0,2937.2 1387.0,2937.2 1402.1,2937.2 C1417.2,2937.2 1432.3,2937.2 1447.4,2937.2 C1462.5,2937.2 1477.6,2937.2 1492.7,2937.2 C1507.8,2937.2 1522.9,2937.2 1538.0,2937.2 C1553.1,2937.2 1568.2,2937.2 1583.3,2937.2 C1598.4,2937.2 1613.5,2937.2 1628.6,2937.2 C1643.7,2937.2 1658.8,2937.2 1673.9,2937.2 C1689.0,2937.2 1704.0,2937.2 1719.1,2937.2 C1734.2,2937.2 1749.3,2937.2 1764.4,2937.2 C1779.5,2937.2 1794.6,2937.2 1809.7,2937.2 C1824.8,2937.2 1847.5,2937.2 1855.0,2937.2" fill="none" stroke="#000000" stroke-width="8.5" stroke-linejoin="round"/>
<rect x="257.5" y="2911.9" width="25" height="25" fill="#000000"/>
<rect x="302.8" y="2918.9" width="25" height="25" fill="#000000"/>
<rect x="348.1" y="2919.5" width="25" height="25" fill="#000000"/>
<rect x="393.4" y="2921.2" width="25" height="25" fill="#000000"/>
<rect x="438.6" y="2921.8" width="25" height="25" fill="#000000"/>
<rect x="483.9" y="2923.0" width="25" height="25" fill="#000000"/>
<rect x="529.2" y="2923.5" width="25" height="25" fill="#000000"/>
<rect x="574.5" y="2924.7" width="25" height="25" fill="#000000"/>
<rect x="619.8" y="2924.7" width="25" height="25" fill="#000000"/>
<rect x="665.1" y="2924.7" width="25" height="25" fill="#000000"/>
<rect x="710.4" y="2924.7" width="25" height="25" fill="#000000"/>
<rect x="755.6" y="2924.7" width="25" height="25" fill="#000000"/>
<rect x="800.9" y="2924.7" width="25" height="25" fill="#000000"/>
<rect x="846.2" y="2924.7" width="25" height="25" fill="#000000"/>
<rect x="891.5" y="2924.7" width="25" height="25" fill="#000000"/>
<rect x="936.8" y="2924.7" width="25" height="25" fill="#000000"/>
<rect x="982.1" y="2924.7" width="25" height="25" fill="#000000"/>
<rect x="1027.4" y="2924.7" width="25" height="25" fill="#000000"/>
<rect x="1072.6" y="2924.7" width="25" height="25" fill="#000000"/>
<rect x="1117.9" y="2924.7" width="25" height="25" fill="#000000"/>
<rect x="1163.2" y="2924.7" width="25" height="25" fill="#000000"/>
<rect x="1208.5" y="2924.7" width="25" height="25" fill="#000000"/>
<rect x="1253.8" y="2924.7" width="25" height="25" fill="#000000"/>
<rect x="1299.1" y="2924.7" width="25" height="25" fill="#000000"/>
<rect x="1344.4" y="2924.7" width="25" height="25" fill="#000000"/>
<rect x="1389.6" y="2924.7" width="25" height="25" fill="#000000"/>
<rect x="1434.9" y="2924.7" width="25" height="25" fill="#000000"/>
<rect x="1480.2" y="2924.7" width="25" height="25" fill="#000000"/>
<rect x="1525.5" y="2924.7" width="25" height="25" fill="#000000"/>
<rect x="1570.8" y="2924.7" width="25" height="25" fill="#000000"/>
<rect x="1616.1" y="2924.7" width="25" height="25" fill="#000000"/>
<rect x="1661.4" y="2924.7" width="25" height="25" fill="#000000"/>
<rect x="1706.6" y="2924.7" width="25" height="25" fill="#000000"/>
<rect x="1751.9" y="2924.7" width="25" height="25" fill="#000000"/>
<rect x="1797.2" y="2924.7" width="25" height="25" fill="#000000"/>
<rect x="1842.5" y="2924.7" width="25" height="25" fill="#000000"/>
<path d="M270.0,2600.1 C277.5,2598.1 300.2,2594.3 315.3,2588.4 C330.4,2582.6 345.5,2572.9 360.6,2565.2 C375.7,2557.4 390.8,2550.1 405.9,2541.9 C421.0,2533.8 436.0,2524.3 451.1,2516.4 C466.2,2508.4 481.3,2501.7 496.4,2494.3 C511.5,2486.9 526.6,2479.0 541.7,2472.2 C556.8,2465.4 571.9,2459.4 587.0,2453.6 C602.1,2447.8 617.2,2442.2 632.3,2437.3 C647.4,2432.5 662.5,2429.0 677.6,2424.5 C692.7,2420.1 707.8,2414.7 722.9,2410.6 C738.0,2406.5 753.0,2403.2 768.1,2400.1 C783.2,2397.0 798.3,2394.7 813.4,2392.0 C828.5,2389.3 843.6,2386.2 858.7,2383.8 C873.8,2381.5 888.9,2379.4 904.0,2378.0 C919.1,2376.7 934.2,2376.7 949.3,2375.7 C964.4,2374.7 979.5,2372.8 994.6,2372.2 C1009.7,2371.6 1024.8,2372.8 1039.9,2372.2 C1055.0,2371.6 1070.0,2369.3 1085.1,2368.7 C1100.2,2368.2 1115.3,2369.3 1130.4,2368.7 C1145.5,2368.2 1160.6,2365.8 1175.7,2365.2 C1190.8,2364.7 1205.9,2365.3 1221.0,2365.2 C1236.1,2365.2 1251.2,2364.2 1266.3,2364.7 C1281.4,2365.2 1296.5,2367.5 1311.6,2368.2 C1326.7,2368.8 1341.8,2368.1 1356.9,2368.7 C1372.0,2369.4 1387.0,2371.3 1402.1,2372.2 C1417.2,2373.2 1432.3,2373.6 1447.4,2374.6 C1462.5,2375.5 1477.6,2376.7 1492.7,2378.0 C1507.8,2379.4 1522.9,2381.1 1538.0,2382.7 C1553.1,2384.2 1568.2,2385.8 1583.3,2387.3 C1598.4,2388.9 1613.5,2390.2 1628.6,2392.0 C1643.7,2393.7 1658.8,2396.1 1673.9,2397.8 C1689.0,2399.5 1704.0,2401.1 1719.1,2402.4 C1734.2,2403.8 1749.3,2404.4 1764.4,2405.9 C1779.5,2407.5 1794.6,2409.8 1809.7,2411.8 C1824.8,2413.7 1847.5,2416.6 1855.0,2417.6" fill="none" stroke="#ec1c24" stroke-width="8.5" stroke-linejoin="round"/>
<circle cx="270.0" cy="2600.1" r="13.5" fill="#ec1c24"/>
<circle cx="315.3" cy="2588.4" r="13.5" fill="#ec1c24"/>
<circle cx="360.6" cy="2565.2" r="13.5" fill="#ec1c24"/>
<circle cx="405.9" cy="2541.9" r="13.5" fill="#ec1c24"/>
<circle cx="451.1" cy="2516.4" r="13.5" fill="#ec1c24"/>
<circle cx="496.4" cy="2494.3" r="13.5" fill="#ec1c24"/>
<circle cx="541.7" cy="2472.2" r="13.5" fill="#ec1c24"/>
<circle cx="587.0" cy="2453.6" r="13.5" fill="#ec1c24"/>
<circle cx="632.3" cy="2437.3" r="13.5" fill="#ec1c24"/>
<circle cx="677.6" cy="2424.5" r="13.5" fill="#ec1c24"/>
<circle cx="722.9" cy="2410.6" r="13.5" fill="#ec1c24"/>
<circle cx="768.1" cy="2400.1" r="13.5" fill="#ec1c24"/>
<circle cx="813.4" cy="2392.0" r="13.5" fill="#ec1c24"/>
<circle cx="858.7" cy="2383.8" r="13.5" fill="#ec1c24"/>
<circle cx="904.0" cy="2378.0" r="13.5" fill="#ec1c24"/>
<circle cx="949.3" cy="2375.7" r="13.5" fill="#ec1c24"/>
<circle cx="994.6" cy="2372.2" r="13.5" fill="#ec1c24"/>
<circle cx="1039.9" cy="2372.2" r="13.5" fill="#ec1c24"/>
<circle cx="1085.1" cy="2368.7" r="13.5" fill="#ec1c24"/>
<circle cx="1130.4" cy="2368.7" r="13.5" fill="#ec1c24"/>
<circle cx="1175.7" cy="2365.2" r="13.5" fill="#ec1c24"/>
<circle cx="1221.0" cy="2365.2" r="13.5" fill="#ec1c24"/>
<circle cx="1266.3" cy="2364.7" r="13.5" fill="#ec1c24"/>
<circle cx="1311.6" cy="2368.2" r="13.5" fill="#ec1c24"/>
<circle cx="1356.9" cy="2368.7" r="13.5" fill="#ec1c24"/>
<circle cx="1402.1" cy="2372.2" r="13.5" fill="#ec1c24"/>
<circle cx="1447.4" cy="2374.6" r="13.5" fill="#ec1c24"/>
<circle cx="1492.7" cy="2378.0" r="13.5" fill="#ec1c24"/>
<circle cx="1538.0" cy="2382.7" r="13.5" fill="#ec1c24"/>
<circle cx="1583.3" cy="2387.3" r="13.5" fill="#ec1c24"/>
<circle cx="1628.6" cy="2392.0" r="13.5" fill="#ec1c24"/>
<circle cx="1673.9" cy="2397.8" r="13.5" fill="#ec1c24"/>
<circle cx="1719.1" cy="2402.4" r="13.5" fill="#ec1c24"/>
<circle cx="1764.4" cy="2405.9" r="13.5" fill="#ec1c24"/>
<circle cx="1809.7" cy="2411.8" r="13.5" fill="#ec1c24"/>
<circle cx="1855.0" cy="2417.6" r="13.5" fill="#ec1c24"/>
<path d="M270.0,2264.1 C271.9,2269.3 277.5,2286.6 281.3,2295.5 C285.1,2304.4 287.0,2308.9 292.6,2317.6 C298.3,2326.3 304.0,2339.1 315.3,2347.8 C326.6,2356.5 345.5,2366.0 360.6,2369.9 C375.7,2373.8 390.8,2372.6 405.9,2371.1 C421.0,2369.5 436.0,2365.4 451.1,2360.6 C466.2,2355.8 481.3,2347.8 496.4,2342.0 C511.5,2336.2 526.6,2331.0 541.7,2325.7 C556.8,2320.5 571.9,2316.4 587.0,2310.6 C602.1,2304.8 617.2,2296.9 632.3,2290.8 C647.4,2284.8 662.5,2279.4 677.6,2274.6 C692.7,2269.7 707.8,2266.2 722.9,2261.8 C738.0,2257.3 753.0,2251.5 768.1,2247.8 C783.2,2244.2 798.3,2243.0 813.4,2239.7 C828.5,2236.4 843.6,2231.4 858.7,2228.1 C873.8,2224.8 888.9,2222.7 904.0,2219.9 C919.1,2217.2 934.2,2214.9 949.3,2211.8 C964.4,2208.7 979.5,2204.2 994.6,2201.3 C1009.7,2198.4 1024.8,2196.9 1039.9,2194.4 C1055.0,2191.8 1070.0,2189.5 1085.1,2186.2 C1100.2,2182.9 1115.3,2178.1 1130.4,2174.6 C1145.5,2171.1 1160.6,2168.2 1175.7,2165.3 C1190.8,2162.4 1205.9,2160.7 1221.0,2157.2 C1236.1,2153.7 1251.2,2147.9 1266.3,2144.4 C1281.4,2140.9 1296.5,2139.5 1311.6,2136.2 C1326.7,2132.9 1341.8,2128.7 1356.9,2124.6 C1372.0,2120.5 1387.0,2115.9 1402.1,2111.8 C1417.2,2107.8 1432.3,2104.3 1447.4,2100.2 C1462.5,2096.1 1477.6,2091.5 1492.7,2087.4 C1507.8,2083.3 1522.9,2079.5 1538.0,2075.8 C1553.1,2072.1 1568.2,2068.8 1583.3,2065.3 C1598.4,2061.8 1613.5,2058.5 1628.6,2054.9 C1643.7,2051.2 1658.8,2047.5 1673.9,2043.2 C1689.0,2039.0 1704.0,2034.1 1719.1,2029.3 C1734.2,2024.4 1749.3,2019.8 1764.4,2014.2 C1779.5,2008.6 1794.6,2001.8 1809.7,1995.6 C1824.8,1989.4 1847.5,1980.1 1855.0,1977.0" fill="none" stroke="#077272" stroke-width="8.5" stroke-linejoin="round"/>
<path d="M253.0,2288.9 L287.0,2288.9 L270.0,2319.9Z" fill="#077272"/>
<path d="M298.3,2343.5 L332.3,2343.5 L315.3,2374.5Z" fill="#077272"/>
<path d="M343.6,2363.3 L377.6,2363.3 L360.6,2394.3Z" fill="#077272"/>
<path d="M388.9,2365.6 L422.9,2365.6 L405.9,2396.6Z" fill="#077272"/>
<path d="M434.1,2351.7 L468.1,2351.7 L451.1,2382.7Z" fill="#077272"/>
<path d="M479.4,2335.4 L513.4,2335.4 L496.4,2366.4Z" fill="#077272"/>
<path d="M524.7,2316.8 L558.7,2316.8 L541.7,2347.8Z" fill="#077272"/>
<path d="M570.0,2298.2 L604.0,2298.2 L587.0,2329.2Z" fill="#077272"/>
<path d="M615.3,2278.4 L649.3,2278.4 L632.3,2309.4Z" fill="#077272"/>
<path d="M660.6,2262.2 L694.6,2262.2 L677.6,2293.2Z" fill="#077272"/>
<path d="M705.9,2249.4 L739.9,2249.4 L722.9,2280.4Z" fill="#077272"/>
<path d="M751.1,2235.4 L785.1,2235.4 L768.1,2266.4Z" fill="#077272"/>
<path d="M796.4,2227.3 L830.4,2227.3 L813.4,2258.3Z" fill="#077272"/>
<path d="M841.7,2215.7 L875.7,2215.7 L858.7,2246.7Z" fill="#077272"/>
<path d="M887.0,2207.5 L921.0,2207.5 L904.0,2238.5Z" fill="#077272"/>
<path d="M932.3,2199.4 L966.3,2199.4 L949.3,2230.4Z" fill="#077272"/>
<path d="M977.6,2188.9 L1011.6,2188.9 L994.6,2219.9Z" fill="#077272"/>
<path d="M1022.9,2182.0 L1056.9,2182.0 L1039.9,2213.0Z" fill="#077272"/>
<path d="M1068.1,2173.8 L1102.1,2173.8 L1085.1,2204.8Z" fill="#077272"/>
<path d="M1113.4,2162.2 L1147.4,2162.2 L1130.4,2193.2Z" fill="#077272"/>
<path d="M1158.7,2152.9 L1192.7,2152.9 L1175.7,2183.9Z" fill="#077272"/>
<path d="M1204.0,2144.8 L1238.0,2144.8 L1221.0,2175.8Z" fill="#077272"/>
<path d="M1249.3,2132.0 L1283.3,2132.0 L1266.3,2163.0Z" fill="#077272"/>
<path d="M1294.6,2123.8 L1328.6,2123.8 L1311.6,2154.8Z" fill="#077272"/>
<path d="M1339.9,2112.2 L1373.9,2112.2 L1356.9,2143.2Z" fill="#077272"/>
<path d="M1385.1,2099.4 L1419.1,2099.4 L1402.1,2130.4Z" fill="#077272"/>
<path d="M1430.4,2087.8 L1464.4,2087.8 L1447.4,2118.8Z" fill="#077272"/>
<path d="M1475.7,2075.0 L1509.7,2075.0 L1492.7,2106.0Z" fill="#077272"/>
<path d="M1521.0,2063.4 L1555.0,2063.4 L1538.0,2094.4Z" fill="#077272"/>
<path d="M1566.3,2052.9 L1600.3,2052.9 L1583.3,2083.9Z" fill="#077272"/>
<path d="M1611.6,2042.5 L1645.6,2042.5 L1628.6,2073.5Z" fill="#077272"/>
<path d="M1656.9,2030.8 L1690.9,2030.8 L1673.9,2061.8Z" fill="#077272"/>
<path d="M1702.1,2016.9 L1736.1,2016.9 L1719.1,2047.9Z" fill="#077272"/>
<path d="M1747.4,2001.8 L1781.4,2001.8 L1764.4,2032.8Z" fill="#077272"/>
<path d="M1792.7,1983.2 L1826.7,1983.2 L1809.7,2014.2Z" fill="#077272"/>
<path d="M1838.0,1964.6 L1872.0,1964.6 L1855.0,1995.6Z" fill="#077272"/>
<path d="M270.0,2372.2 C273.8,2375.9 285.1,2388.5 292.6,2394.3 C300.2,2400.1 304.0,2403.4 315.3,2407.1 C326.6,2410.8 345.5,2416.0 360.6,2416.4 C375.7,2416.8 390.8,2413.1 405.9,2409.4 C421.0,2405.7 436.0,2399.5 451.1,2394.3 C466.2,2389.1 481.3,2383.1 496.4,2378.0 C511.5,2373.0 526.6,2368.5 541.7,2364.1 C556.8,2359.6 571.9,2355.4 587.0,2351.3 C602.1,2347.2 617.2,2343.4 632.3,2339.7 C647.4,2336.0 662.5,2332.7 677.6,2329.2 C692.7,2325.7 707.8,2321.5 722.9,2318.8 C738.0,2316.0 753.0,2315.3 768.1,2312.9 C783.2,2310.6 798.3,2307.1 813.4,2304.8 C828.5,2302.5 843.6,2301.3 858.7,2299.0 C873.8,2296.7 888.9,2293.0 904.0,2290.8 C919.1,2288.7 934.2,2288.3 949.3,2286.2 C964.4,2284.1 979.5,2280.6 994.6,2278.1 C1009.7,2275.5 1024.8,2274.0 1039.9,2271.1 C1055.0,2268.2 1070.0,2264.5 1085.1,2260.6 C1100.2,2256.8 1115.3,2251.3 1130.4,2247.8 C1145.5,2244.3 1160.6,2242.6 1175.7,2239.7 C1190.8,2236.8 1205.9,2233.3 1221.0,2230.4 C1236.1,2227.5 1251.2,2224.8 1266.3,2222.3 C1281.4,2219.7 1296.5,2217.4 1311.6,2215.3 C1326.7,2213.2 1341.8,2210.8 1356.9,2209.5 C1372.0,2208.1 1387.0,2208.5 1402.1,2207.2 C1417.2,2205.8 1432.3,2202.9 1447.4,2201.3 C1462.5,2199.8 1477.6,2198.8 1492.7,2197.8 C1507.8,2196.9 1522.9,2195.9 1538.0,2195.5 C1553.1,2195.1 1568.2,2195.3 1583.3,2195.5 C1598.4,2195.7 1613.5,2196.5 1628.6,2196.7 C1643.7,2196.9 1658.8,2196.5 1673.9,2196.7 C1689.0,2196.9 1704.0,2197.1 1719.1,2197.8 C1734.2,2198.6 1749.3,2200.6 1764.4,2201.3 C1779.5,2202.1 1794.6,2202.1 1809.7,2202.5 C1824.8,2202.9 1847.5,2203.5 1855.0,2203.7" fill="none" stroke="#2a00f5" stroke-width="8.5" stroke-linejoin="round"/>
<path d="M270.0,2365.2 L287.0,2396.2 L253.0,2396.2Z" fill="#2a00f5"/>
<path d="M315.3,2388.5 L332.3,2419.5 L298.3,2419.5Z" fill="#2a00f5"/>
<path d="M360.6,2397.8 L377.6,2428.8 L343.6,2428.8Z" fill="#2a00f5"/>
<path d="M405.9,2390.8 L422.9,2421.8 L388.9,2421.8Z" fill="#2a00f5"/>
<path d="M451.1,2375.7 L468.1,2406.7 L434.1,2406.7Z" fill="#2a00f5"/>
<path d="M496.4,2359.4 L513.4,2390.4 L479.4,2390.4Z" fill="#2a00f5"/>
<path d="M541.7,2345.5 L558.7,2376.5 L524.7,2376.5Z" fill="#2a00f5"/>
<path d="M587.0,2332.7 L604.0,2363.7 L570.0,2363.7Z" fill="#2a00f5"/>
<path d="M632.3,2321.1 L649.3,2352.1 L615.3,2352.1Z" fill="#2a00f5"/>
<path d="M677.6,2310.6 L694.6,2341.6 L660.6,2341.6Z" fill="#2a00f5"/>
<path d="M722.9,2300.2 L739.9,2331.2 L705.9,2331.2Z" fill="#2a00f5"/>
<path d="M768.1,2294.3 L785.1,2325.3 L751.1,2325.3Z" fill="#2a00f5"/>
<path d="M813.4,2286.2 L830.4,2317.2 L796.4,2317.2Z" fill="#2a00f5"/>
<path d="M858.7,2280.4 L875.7,2311.4 L841.7,2311.4Z" fill="#2a00f5"/>
<path d="M904.0,2272.2 L921.0,2303.2 L887.0,2303.2Z" fill="#2a00f5"/>
<path d="M949.3,2267.6 L966.3,2298.6 L932.3,2298.6Z" fill="#2a00f5"/>
<path d="M994.6,2259.5 L1011.6,2290.5 L977.6,2290.5Z" fill="#2a00f5"/>
<path d="M1039.9,2252.5 L1056.9,2283.5 L1022.9,2283.5Z" fill="#2a00f5"/>
<path d="M1085.1,2242.0 L1102.1,2273.0 L1068.1,2273.0Z" fill="#2a00f5"/>
<path d="M1130.4,2229.2 L1147.4,2260.2 L1113.4,2260.2Z" fill="#2a00f5"/>
<path d="M1175.7,2221.1 L1192.7,2252.1 L1158.7,2252.1Z" fill="#2a00f5"/>
<path d="M1221.0,2211.8 L1238.0,2242.8 L1204.0,2242.8Z" fill="#2a00f5"/>
<path d="M1266.3,2203.7 L1283.3,2234.7 L1249.3,2234.7Z" fill="#2a00f5"/>
<path d="M1311.6,2196.7 L1328.6,2227.7 L1294.6,2227.7Z" fill="#2a00f5"/>
<path d="M1356.9,2190.9 L1373.9,2221.9 L1339.9,2221.9Z" fill="#2a00f5"/>
<path d="M1402.1,2188.6 L1419.1,2219.6 L1385.1,2219.6Z" fill="#2a00f5"/>
<path d="M1447.4,2182.7 L1464.4,2213.7 L1430.4,2213.7Z" fill="#2a00f5"/>
<path d="M1492.7,2179.2 L1509.7,2210.2 L1475.7,2210.2Z" fill="#2a00f5"/>
<path d="M1538.0,2176.9 L1555.0,2207.9 L1521.0,2207.9Z" fill="#2a00f5"/>
<path d="M1583.3,2176.9 L1600.3,2207.9 L1566.3,2207.9Z" fill="#2a00f5"/>
<path d="M1628.6,2178.1 L1645.6,2209.1 L1611.6,2209.1Z" fill="#2a00f5"/>
<path d="M1673.9,2178.1 L1690.9,2209.1 L1656.9,2209.1Z" fill="#2a00f5"/>
<path d="M1719.1,2179.2 L1736.1,2210.2 L1702.1,2210.2Z" fill="#2a00f5"/>
<path d="M1764.4,2182.7 L1781.4,2213.7 L1747.4,2213.7Z" fill="#2a00f5"/>
<path d="M1809.7,2183.9 L1826.7,2214.9 L1792.7,2214.9Z" fill="#2a00f5"/>
<path d="M1855.0,2185.1 L1872.0,2216.1 L1838.0,2216.1Z" fill="#2a00f5"/>
<path d="M270.0,1916.5 C270.5,1919.2 271.8,1926.6 272.7,1932.8 C273.7,1939.0 274.7,1946.2 275.7,1953.7 C276.6,1961.3 277.1,1968.6 278.4,1978.1 C279.7,1987.6 281.8,1999.8 283.6,2010.7 C285.4,2021.5 287.1,2034.3 289.2,2043.2 C291.4,2052.2 293.7,2058.0 296.7,2064.2 C299.8,2070.4 304.5,2076.4 307.6,2080.4 C310.7,2084.5 306.5,2086.6 315.3,2088.6 C324.1,2090.5 345.5,2090.5 360.6,2092.1 C375.7,2093.6 390.8,2095.9 405.9,2097.9 C421.0,2099.8 436.0,2101.6 451.1,2103.7 C466.2,2105.8 481.3,2108.5 496.4,2110.7 C511.5,2112.8 526.6,2115.1 541.7,2116.5 C556.8,2117.8 571.9,2118.6 587.0,2118.8 C602.1,2119.0 617.2,2118.8 632.3,2117.6 C647.4,2116.5 662.5,2113.6 677.6,2111.8 C692.7,2110.1 707.8,2108.7 722.9,2107.2 C738.0,2105.6 753.0,2104.3 768.1,2102.5 C783.2,2100.8 798.3,2098.3 813.4,2096.7 C828.5,2095.2 843.6,2094.4 858.7,2093.2 C873.8,2092.1 888.9,2091.1 904.0,2089.7 C919.1,2088.4 934.2,2086.8 949.3,2085.1 C964.4,2083.3 979.5,2080.8 994.6,2079.3 C1009.7,2077.7 1024.8,2077.1 1039.9,2075.8 C1055.0,2074.4 1070.0,2072.9 1085.1,2071.1 C1100.2,2069.4 1115.3,2067.3 1130.4,2065.3 C1145.5,2063.4 1160.6,2061.8 1175.7,2059.5 C1190.8,2057.2 1205.9,2053.5 1221.0,2051.4 C1236.1,2049.2 1251.2,2049.8 1266.3,2046.7 C1281.4,2043.6 1296.5,2036.5 1311.6,2032.8 C1326.7,2029.1 1341.8,2028.1 1356.9,2024.6 C1372.0,2021.2 1387.0,2015.5 1402.1,2011.8 C1417.2,2008.2 1432.3,2006.4 1447.4,2002.5 C1462.5,1998.7 1477.6,1993.4 1492.7,1988.6 C1507.8,1983.8 1522.9,1977.4 1538.0,1973.5 C1553.1,1969.6 1568.2,1969.2 1583.3,1965.3 C1598.4,1961.5 1613.5,1954.5 1628.6,1950.2 C1643.7,1946.0 1658.8,1943.5 1673.9,1939.8 C1689.0,1936.1 1704.0,1931.2 1719.1,1928.2 C1734.2,1925.1 1749.3,1922.7 1764.4,1921.2 C1779.5,1919.6 1794.6,1919.6 1809.7,1918.8 C1824.8,1918.1 1847.5,1916.9 1855.0,1916.5" fill="none" stroke="#f400f4" stroke-width="8.5" stroke-linejoin="round"/>
<path d="M270.0,2033.5 L285.0,2052.5 L270.0,2071.5 L255.0,2052.5Z" fill="#f400f4"/>
<path d="M315.3,2071.9 L330.3,2090.9 L315.3,2109.9 L300.3,2090.9Z" fill="#f400f4"/>
<path d="M360.6,2073.1 L375.6,2092.1 L360.6,2111.1 L345.6,2092.1Z" fill="#f400f4"/>
<path d="M405.9,2078.9 L420.9,2097.9 L405.9,2116.9 L390.9,2097.9Z" fill="#f400f4"/>
<path d="M451.1,2084.7 L466.1,2103.7 L451.1,2122.7 L436.1,2103.7Z" fill="#f400f4"/>
<path d="M496.4,2091.7 L511.4,2110.7 L496.4,2129.7 L481.4,2110.7Z" fill="#f400f4"/>
<path d="M541.7,2097.5 L556.7,2116.5 L541.7,2135.5 L526.7,2116.5Z" fill="#f400f4"/>
<path d="M587.0,2099.8 L602.0,2118.8 L587.0,2137.8 L572.0,2118.8Z" fill="#f400f4"/>
<path d="M632.3,2098.6 L647.3,2117.6 L632.3,2136.6 L617.3,2117.6Z" fill="#f400f4"/>
<path d="M677.6,2092.8 L692.6,2111.8 L677.6,2130.8 L662.6,2111.8Z" fill="#f400f4"/>
<path d="M722.9,2088.2 L737.9,2107.2 L722.9,2126.2 L707.9,2107.2Z" fill="#f400f4"/>
<path d="M768.1,2083.5 L783.1,2102.5 L768.1,2121.5 L753.1,2102.5Z" fill="#f400f4"/>
<path d="M813.4,2077.7 L828.4,2096.7 L813.4,2115.7 L798.4,2096.7Z" fill="#f400f4"/>
<path d="M858.7,2074.2 L873.7,2093.2 L858.7,2112.2 L843.7,2093.2Z" fill="#f400f4"/>
<path d="M904.0,2070.7 L919.0,2089.7 L904.0,2108.7 L889.0,2089.7Z" fill="#f400f4"/>
<path d="M949.3,2066.1 L964.3,2085.1 L949.3,2104.1 L934.3,2085.1Z" fill="#f400f4"/>
<path d="M994.6,2060.3 L1009.6,2079.3 L994.6,2098.3 L979.6,2079.3Z" fill="#f400f4"/>
<path d="M1039.9,2056.8 L1054.9,2075.8 L1039.9,2094.8 L1024.9,2075.8Z" fill="#f400f4"/>
<path d="M1085.1,2052.1 L1100.1,2071.1 L1085.1,2090.1 L1070.1,2071.1Z" fill="#f400f4"/>
<path d="M1130.4,2046.3 L1145.4,2065.3 L1130.4,2084.3 L1115.4,2065.3Z" fill="#f400f4"/>
<path d="M1175.7,2040.5 L1190.7,2059.5 L1175.7,2078.5 L1160.7,2059.5Z" fill="#f400f4"/>
<path d="M1221.0,2032.4 L1236.0,2051.4 L1221.0,2070.4 L1206.0,2051.4Z" fill="#f400f4"/>
<path d="M1266.3,2027.7 L1281.3,2046.7 L1266.3,2065.7 L1251.3,2046.7Z" fill="#f400f4"/>
<path d="M1311.6,2013.8 L1326.6,2032.8 L1311.6,2051.8 L1296.6,2032.8Z" fill="#f400f4"/>
<path d="M1356.9,2005.6 L1371.9,2024.6 L1356.9,2043.6 L1341.9,2024.6Z" fill="#f400f4"/>
<path d="M1402.1,1992.8 L1417.1,2011.8 L1402.1,2030.8 L1387.1,2011.8Z" fill="#f400f4"/>
<path d="M1447.4,1983.5 L1462.4,2002.5 L1447.4,2021.5 L1432.4,2002.5Z" fill="#f400f4"/>
<path d="M1492.7,1969.6 L1507.7,1988.6 L1492.7,2007.6 L1477.7,1988.6Z" fill="#f400f4"/>
<path d="M1538.0,1954.5 L1553.0,1973.5 L1538.0,1992.5 L1523.0,1973.5Z" fill="#f400f4"/>
<path d="M1583.3,1946.3 L1598.3,1965.3 L1583.3,1984.3 L1568.3,1965.3Z" fill="#f400f4"/>
<path d="M1628.6,1931.2 L1643.6,1950.2 L1628.6,1969.2 L1613.6,1950.2Z" fill="#f400f4"/>
<path d="M1673.9,1920.8 L1688.9,1939.8 L1673.9,1958.8 L1658.9,1939.8Z" fill="#f400f4"/>
<path d="M1719.1,1909.2 L1734.1,1928.2 L1719.1,1947.2 L1704.1,1928.2Z" fill="#f400f4"/>
<path d="M1764.4,1902.2 L1779.4,1921.2 L1764.4,1940.2 L1749.4,1921.2Z" fill="#f400f4"/>
<path d="M1809.7,1899.8 L1824.7,1918.8 L1809.7,1937.8 L1794.7,1918.8Z" fill="#f400f4"/>
<path d="M1855.0,1897.5 L1870.0,1916.5 L1855.0,1935.5 L1840.0,1916.5Z" fill="#f400f4"/>
</g>
<rect x="270" y="1784" width="1585" height="1162" fill="none" stroke="#000" stroke-width="9" stroke-linejoin="miter"/>
<line x1="270" y1="2830.2" x2="288" y2="2830.2" stroke="#000" stroke-width="8"/>
<line x1="1855" y1="2830.2" x2="1837" y2="2830.2" stroke="#000" stroke-width="8"/>
<line x1="270" y1="2714.0" x2="298.5" y2="2714.0" stroke="#000" stroke-width="9.5"/>
<line x1="1855" y1="2714.0" x2="1826.5" y2="2714.0" stroke="#000" stroke-width="9.5"/>
<line x1="270" y1="2597.8" x2="288" y2="2597.8" stroke="#000" stroke-width="8"/>
<line x1="1855" y1="2597.8" x2="1837" y2="2597.8" stroke="#000" stroke-width="8"/>
<line x1="270" y1="2481.5" x2="298.5" y2="2481.5" stroke="#000" stroke-width="9.5"/>
<line x1="1855" y1="2481.5" x2="1826.5" y2="2481.5" stroke="#000" stroke-width="9.5"/>
<line x1="270" y1="2365.2" x2="288" y2="2365.2" stroke="#000" stroke-width="8"/>
<line x1="1855" y1="2365.2" x2="1837" y2="2365.2" stroke="#000" stroke-width="8"/>
<line x1="270" y1="2249.0" x2="298.5" y2="2249.0" stroke="#000" stroke-width="9.5"/>
<line x1="1855" y1="2249.0" x2="1826.5" y2="2249.0" stroke="#000" stroke-width="9.5"/>
<line x1="270" y1="2132.8" x2="288" y2="2132.8" stroke="#000" stroke-width="8"/>
<line x1="1855" y1="2132.8" x2="1837" y2="2132.8" stroke="#000" stroke-width="8"/>
<line x1="270" y1="2016.5" x2="298.5" y2="2016.5" stroke="#000" stroke-width="9.5"/>
<line x1="1855" y1="2016.5" x2="1826.5" y2="2016.5" stroke="#000" stroke-width="9.5"/>
<line x1="270" y1="1900.2" x2="288" y2="1900.2" stroke="#000" stroke-width="8"/>
<line x1="1855" y1="1900.2" x2="1837" y2="1900.2" stroke="#000" stroke-width="8"/>
<line x1="496.4" y1="2946" x2="496.4" y2="2917.5" stroke="#000" stroke-width="9.5"/>
<line x1="722.9" y1="2946" x2="722.9" y2="2928" stroke="#000" stroke-width="8"/>
<line x1="949.3" y1="2946" x2="949.3" y2="2917.5" stroke="#000" stroke-width="9.5"/>
<line x1="1175.7" y1="2946" x2="1175.7" y2="2928" stroke="#000" stroke-width="8"/>
<line x1="1402.1" y1="2946" x2="1402.1" y2="2917.5" stroke="#000" stroke-width="9.5"/>
<line x1="1628.6" y1="2946" x2="1628.6" y2="2928" stroke="#000" stroke-width="8"/>
<text x="206.93" y="2967.42" font-size="74.84" fill="#000">0</text>
<text x="169.51" y="2734.92" font-size="74.84" fill="#000">20</text>
<text x="169.51" y="2502.42" font-size="74.84" fill="#000">40</text>
<text x="169.51" y="2269.92" font-size="74.84" fill="#000">60</text>
<text x="169.51" y="2037.42" font-size="74.84" fill="#000">80</text>
<text x="132.10" y="1804.92" font-size="74.84" fill="#000">100</text>
<text x="443.01" y="3029.81" font-size="71.13" fill="#000">500</text>
<text x="895.26" y="3029.81" font-size="71.13" fill="#000">700</text>
<text x="1349.18" y="3029.81" font-size="71.13" fill="#000">900</text>
<text x="1782.38" y="3029.81" font-size="71.13" fill="#000">1100</text>
<text transform="translate(109.40,2735.82) rotate(-90) scale(0.9933,1)" font-size="107.21" fill="#000">Haze ratio (%)</text>
<text transform="translate(665.99,3133.80) scale(0.9959,1)" font-size="107.21" fill="#000" >Wavelength (nm)</text>
<text transform="translate(960.43,3295.91) scale(1.0508,1)" font-size="85.91" fill="#e51b20">(b)</text>
<rect x="293" y="1798" width="469" height="114.8" fill="#000"/>
<rect x="275.2" y="1780" width="469.8" height="114.8" fill="#fff" stroke="#111" stroke-width="2.6"/>
<rect x="266" y="1779" width="1593" height="10.6" fill="#000"/>
<text transform="translate(305.25,1864.60) scale(0.9779,1)" font-size="74.38" fill="#000" >ITO:Zr films</text>
<text transform="translate(1269.64,1851.00) scale(0.9992,1)" font-size="67.81" fill="#000" >Etching time (min)</text>
<text transform="translate(323.21,2051.00) scale(0.9793,1)" font-size="58.80" fill="#000" >75 min, <tspan fill="#d62a2a">haze, ~78%</tspan></text>
<text transform="translate(280.14,2212.30) scale(0.9809,1)" font-size="58.60" fill="#000" >60 min, haze, ~65%</text>
<text transform="translate(1222.12,2303.00) scale(1.0184,1)" font-size="56.37" fill="#000" >45 min, haze, ~57%</text>
<text transform="translate(632.63,2508.70) scale(0.9936,1)" font-size="58.15" fill="#000" >30 min, haze, ~45%</text>
<text transform="translate(611.14,2893.00) scale(1.0436,1)" font-size="54.68" fill="#000" >As deposited, haze, ~0.80%</text>
</g></svg>
</body></html>
